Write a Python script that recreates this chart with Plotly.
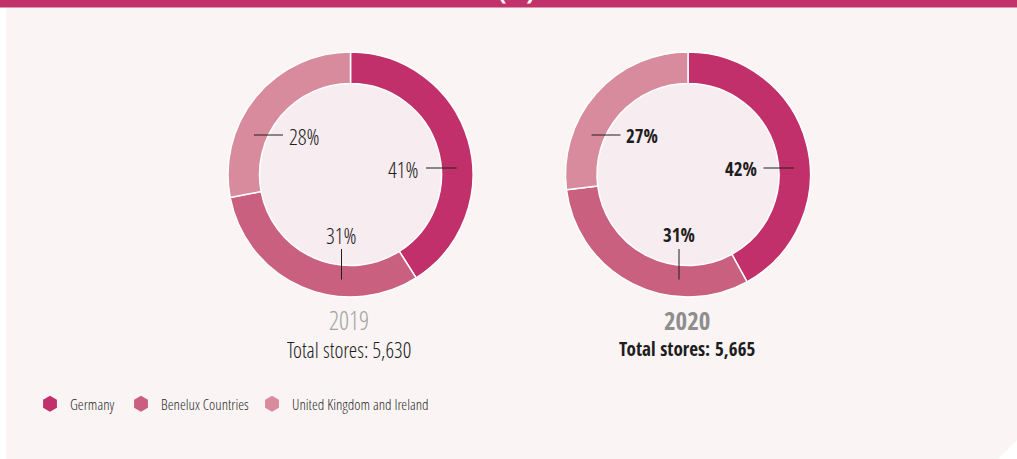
import plotly.graph_objects as go

W, H = 1017, 459

regions = ["Germany", "Benelux Countries", "United Kingdom and Ireland"]
colors = ["#C1306A", "#C9607F", "#D98B9E"]
years = ["2019", "2020"]
shares_2019 = [41, 31, 28]
shares_2020 = [42, 31, 27]
totals = [5630, 5665]
shares = [shares_2019, shares_2020]

LIGHT = "Open Sans Condensed Light, Open Sans Condensed, Roboto Condensed, Noto Sans"
BOLD = "Open Sans Condensed, Roboto Condensed, Noto Sans"
DARK = "#1E1E1E"


def px(x):
    return x / W


def py(y):
    return 1 - y / H


centers = [(350.5, 174.5), (688.0, 174.5)]
R = 122.5
HOLE_R = 91.0

fig = go.Figure()
shapes = []
annotations = []

# panel background with cut corner and top bar
shapes.append(dict(type="path", xref="paper", yref="paper", layer="below",
                   path=f"M{px(6)},{py(7.5)} L1,{py(7.5)} L1,{py(440)} L{px(998)},0 L{px(6)},0 Z",
                   fillcolor="#FAF4F4", line=dict(width=0)))
shapes.append(dict(type="rect", xref="paper", yref="paper", layer="below",
                   x0=0, x1=1, y0=py(7.5), y1=1.0, fillcolor="#C1326B", line=dict(width=0)))

for i, (cx, cy) in enumerate(centers):
    shapes.append(dict(type="circle", xref="paper", yref="paper", layer="below",
                       x0=px(cx - HOLE_R), x1=px(cx + HOLE_R), y0=py(cy + HOLE_R), y1=py(cy - HOLE_R),
                       fillcolor="#F7ECF0", line=dict(width=0)))
    fig.add_trace(go.Pie(
        labels=regions, values=shares[i], sort=False, direction="clockwise", rotation=0,
        hole=HOLE_R / R, textinfo="none", showlegend=False,
        marker=dict(colors=colors, line=dict(color="white", width=1.5)),
        domain=dict(x=[px(cx - R), px(cx + R)], y=[py(cy + R), py(cy - R)]),
        hovertemplate="%{label}: %{value}%<extra>" + years[i] + "</extra>",
    ))
    bold = i == 1
    fam = BOLD if bold else LIGHT
    wt = "bold" if bold else "normal"
    size = 19 if bold else 22
    lab_font = dict(family=fam, size=size, color=DARK, weight=wt)
    v = shares[i]
    # Germany label (right)
    annotations.append(dict(x=px(cx + 70.5), y=py(cy - 5.5), xref="paper", yref="paper",
                            text=f"{v[0]}%", showarrow=False, xanchor="right", yanchor="middle",
                            font=lab_font))
    shapes.append(dict(type="line", xref="paper", yref="paper", x0=px(cx + 75.5), x1=px(cx + 106),
                       y0=py(cy - 6.5), y1=py(cy - 6.5), line=dict(color=DARK, width=1)))
    # Benelux label (bottom)
    annotations.append(dict(x=px(cx - 9), y=py(cy + 60.5), xref="paper", yref="paper",
                            text=f"{v[1]}%", showarrow=False, xanchor="center", yanchor="middle",
                            font=lab_font))
    shapes.append(dict(type="line", xref="paper", yref="paper", x0=px(cx - 9), x1=px(cx - 9),
                       y0=py(cy + 74.5), y1=py(cy + 105), line=dict(color=DARK, width=1)))
    # UK label (upper left)
    annotations.append(dict(x=px(cx - 64), y=py(cy - 38.5), xref="paper", yref="paper",
                            text=f"{v[2]}%", showarrow=False, xanchor="left", yanchor="middle",
                            font=lab_font))
    shapes.append(dict(type="line", xref="paper", yref="paper", x0=px(cx - 96.5), x1=px(cx - 67.5),
                       y0=py(cy - 39.5), y1=py(cy - 39.5), line=dict(color=DARK, width=1)))
    # year and total
    annotations.append(dict(x=px(cx - 1.5), y=py(319.5), xref="paper", yref="paper",
                            text=years[i], showarrow=False, xanchor="center", yanchor="middle",
                            height=26, borderpad=0,
                            font=dict(family=fam, size=25,
                                      color="#8E8E8E" if bold else "#A3A3A3", weight=wt)))
    annotations.append(dict(x=px(cx - 1.5), y=py(348.5), xref="paper", yref="paper",
                            text=f"Total stores: {totals[i]:,}", showarrow=False, xanchor="center",
                            yanchor="middle", height=24, borderpad=0,
                            font=dict(family=fam, size=19 if bold else 21.5, color=DARK, weight=wt)))

# cut-off title fragment in top bar
annotations.append(dict(x=px(516), y=py(-11), xref="paper", yref="paper", text="(%)", showarrow=False,
                        xanchor="center", yanchor="middle",
                        font=dict(family=BOLD, size=26, color="white", weight="bold")))

legend_widths = [46, 86, 200]
for name, col, lw in zip(regions, colors, legend_widths):
    fig.add_trace(go.Scatter(x=[None], y=[None], mode="markers", name=name, legendwidth=lw,
                             marker=dict(symbol="hexagon", size=20, color=col)))

fig.update_layout(
    width=W, height=H, margin=dict(l=0, r=0, t=0, b=0),
    paper_bgcolor="white", plot_bgcolor="rgba(0,0,0,0)",
    xaxis=dict(visible=False), yaxis=dict(visible=False),
    shapes=shapes, annotations=annotations,
    legend=dict(orientation="h", x=px(30), y=py(404), xanchor="left", yanchor="middle",
                bgcolor="rgba(0,0,0,0)", font=dict(family=LIGHT, size=15, color="#2A2A2A")),
)

fig.write_html("out.html", config={"displayModeBar": False},
               post_script="document.body.style.margin='0';")
